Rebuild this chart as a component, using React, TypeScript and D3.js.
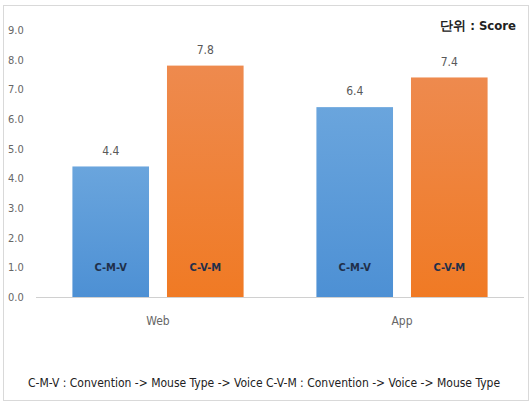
import React from "react";
import * as d3 from "d3";

// Platforms on the x axis and the two input orders shown for each
const categories = ["Web", "App"];
const seriesKeys = ["C-M-V", "C-V-M"];
const cmvValues = [4.4, 6.4];
const cvmValues = [7.8, 7.4];
const yTicks = [0, 1, 2, 3, 4, 5, 6, 7, 8, 9];
const unitLabel = "단위 : Score";
const legendText =
  "C-M-V : Convention -> Mouse Type -> Voice C-V-M : Convention -> Voice -> Mouse Type";

const W = 532;
const H = 403;
const margin = { left: 36, right: 8, top: 30, bottom: 106 };
const FONT = "'Liberation Sans Narrow', 'DejaVu Sans Condensed', 'Liberation Sans', sans-serif";

export default function App() {
  const x0 = d3
    .scaleBand<string>()
    .domain(categories)
    .range([margin.left, W - margin.right])
    .paddingInner(0)
    .paddingOuter(0);
  const x1 = d3
    .scaleBand<string>()
    .domain(seriesKeys)
    .range([0, x0.bandwidth()])
    .paddingInner(0.19)
    .paddingOuter(0.385);
  const y = d3.scaleLinear().domain([0, 9]).range([297, 30]);

  const rows = categories.map((c, i) => ({
    cat: c,
    vals: [
      { key: seriesKeys[0], v: cmvValues[i] },
      { key: seriesKeys[1], v: cvmValues[i] },
    ],
  }));

  const fills: Record<string, string> = {
    "C-M-V": "url(#gBlue)",
    "C-V-M": "url(#gOrange)",
  };

  return (
    <svg
      width={W}
      height={H}
      style={{ position: "absolute", left: 0, top: 0, background: "#fff" }}
    >
      <defs>
        <linearGradient id="gBlue" x1="0" y1="0" x2="0" y2="1">
          <stop offset="0%" stopColor="#6aa5dd" />
          <stop offset="100%" stopColor="#4d90d4" />
        </linearGradient>
        <linearGradient id="gOrange" x1="0" y1="0" x2="0" y2="1">
          <stop offset="0%" stopColor="#ee8a4e" />
          <stop offset="100%" stopColor="#f07a24" />
        </linearGradient>
      </defs>
      <rect x={3.5} y={5.5} width={525} height={395} fill="#fff" stroke="#d9d9d9" />

      {/* y tick labels */}
      {yTicks.map((t) => (
        <text
          key={t}
          x={8}
          y={y(t)}
          dy="0.35em"
          fontFamily={FONT}
          fontSize={11}
          fill="#666"
        >
          {d3.format(".1f")(t)}
        </text>
      ))}

      {/* baseline */}
      <line
        x1={margin.left}
        x2={W - margin.right}
        y1={y(0) + 0.5}
        y2={y(0) + 0.5}
        stroke="#d0d0d0"
      />

      {rows.map((r) => (
        <g key={r.cat} transform={`translate(${x0(r.cat)},0)`}>
          {r.vals.map((d) => {
            const bx = x1(d.key) as number;
            const bw = x1.bandwidth();
            return (
              <g key={d.key}>
                <rect
                  x={bx}
                  y={y(d.v)}
                  width={bw}
                  height={y(0) - y(d.v)}
                  fill={fills[d.key]}
                />
                <text
                  x={bx + bw / 2}
                  y={y(d.v) - 16}
                  textAnchor="middle"
                  dy="0.35em"
                  fontFamily={FONT}
                  fontSize={12}
                  fill="#595959"
                >
                  {d.v.toFixed(1)}
                </text>
                <text
                  x={bx + bw / 2}
                  y={y(1)}
                  textAnchor="middle"
                  dy="0.35em"
                  fontFamily={FONT}
                  fontSize={11}
                  fontWeight="bold"
                  fill="#1f2f4a"
                >
                  {d.key}
                </text>
              </g>
            );
          })}
          <text
            x={x0.bandwidth() / 2}
            y={321}
            textAnchor="middle"
            dy="0.35em"
            fontFamily={FONT}
            fontSize={12}
            fill="#666"
          >
            {r.cat}
          </text>
        </g>
      ))}

      <text
        x={516}
        y={25}
        textAnchor="end"
        dy="0.35em"
        fontFamily={FONT}
        fontSize={13}
        fontWeight="bold"
        fill="#222"
      >
        {unitLabel}
      </text>

      <text
        x={264}
        y={383}
        textAnchor="middle"
        dy="0.35em"
        fontFamily={FONT}
        fontSize={12}
        fill="#222"
      >
        {legendText}
      </text>
    </svg>
  );
}
